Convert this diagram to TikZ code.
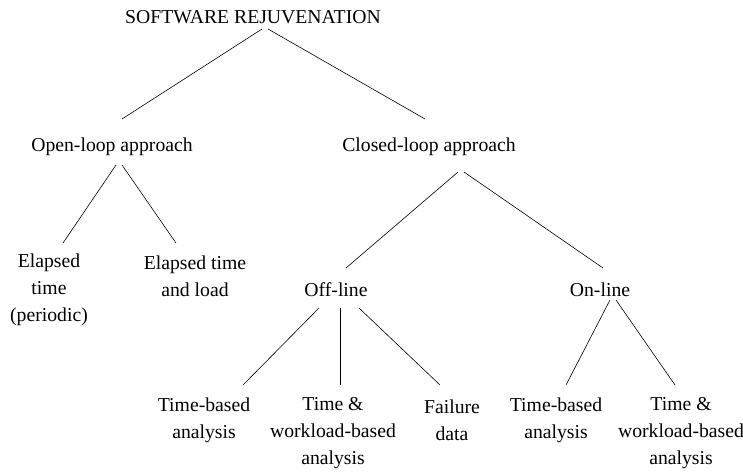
\documentclass[tikz,border=0pt]{standalone}
\usepackage{fontspec}
\setmainfont{Liberation Serif}
\begin{document}
\begin{tikzpicture}[x=1pt,y=-1pt,
  lbl/.style={inner sep=0pt,align=center,font=\fontsize{19.7}{27}\selectfont},
  edge/.style={line width=0.6pt}]
\useasboundingbox (0,0) rectangle (743,471);
\node[lbl] (root) at (253,17) {SOFTWARE REJUVENATION};
\node[lbl] (open) at (112,147) {Open-loop approach};
\node[lbl] (closed) at (429,147) {Closed-loop approach};
\node[lbl] (et) at (49,290) {Elapsed\\time\\(periodic)};
\node[lbl] (etl) at (195,276.5) {Elapsed time\\and load};
\node[lbl] (off) at (336,290) {Off-line};
\node[lbl] (on) at (600,290) {On-line};
\node[lbl] (tba) at (204,420) {Time-based\\analysis};
\node[lbl] (twa) at (333,433) {Time \&\\workload-based\\analysis};
\node[lbl] (fd) at (452,420) {Failure\\data};
\node[lbl] (tbb) at (556,420) {Time-based\\analysis};
\node[lbl] (twb) at (681,433) {Time \&\\workload-based\\analysis};

\draw[edge] ([shift={(9,12)}]root.center) -- ([shift={(10,-28)}]open.center);
\draw[edge] ([shift={(15,12)}]root.center) -- ([shift={(-4,-28)}]closed.center);
\draw[edge] ([shift={(4,18)}]open.center) -- ([shift={(14,-47)}]et.center);
\draw[edge] ([shift={(10,18)}]open.center) -- ([shift={(-19,-33.5)}]etl.center);
\draw[edge] ([shift={(29,25)}]closed.center) -- ([shift={(10,-22)}]off.center);
\draw[edge] ([shift={(35,25)}]closed.center) -- ([shift={(3,-22)}]on.center);
\draw[edge] ([shift={(-17,18)}]off.center) -- ([shift={(39,-35)}]tba.center);
\draw[edge] ([shift={(4,18)}]off.center) -- ([shift={(7,-48)}]twa.center);
\draw[edge] ([shift={(23,18)}]off.center) -- ([shift={(-12,-35)}]fd.center);
\draw[edge] ([shift={(10,10)}]on.center) -- ([shift={(10,-35)}]tbb.center);
\draw[edge] ([shift={(16,10)}]on.center) -- ([shift={(-6,-48)}]twb.center);
\end{tikzpicture}
\end{document}
